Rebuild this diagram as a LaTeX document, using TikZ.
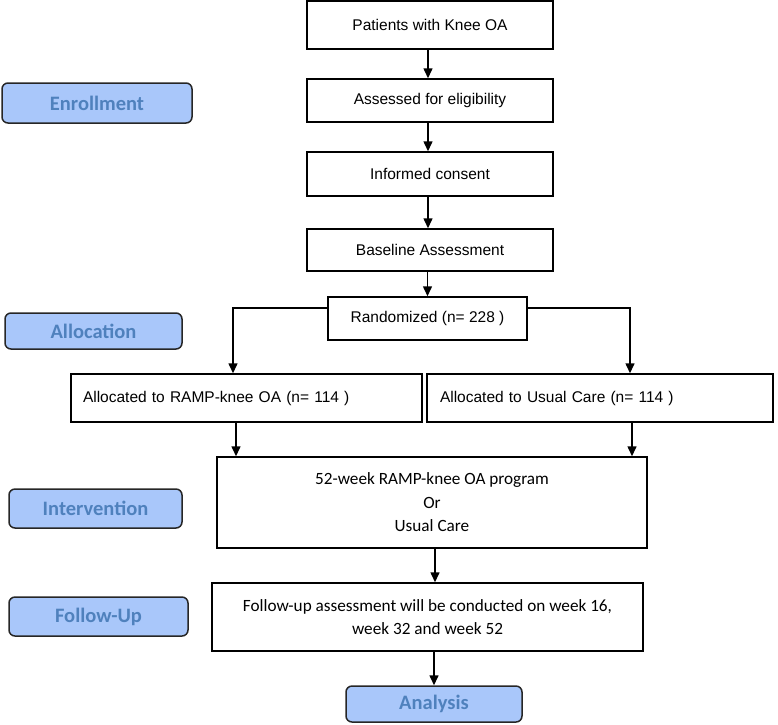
\documentclass[tikz,border=0pt]{standalone}
\usepackage{fontspec}
\setmainfont{Liberation Sans}
\newfontfamily\calib{Carlito}
\usetikzlibrary{arrows.meta}
\definecolor{lblfill}{HTML}{A9C7FA}
\definecolor{lbltext}{HTML}{4F81BD}
\tikzset{
  box/.style={draw=black, line width=1.5pt, inner sep=0pt, align=center,
    font=\fontsize{15.5}{18}\selectfont},
  cbox/.style={box, font=\calib\fontsize{17.2}{23.5}\selectfont},
  lbl/.style={draw=black!85, line width=1.5pt, rounded corners=6pt, fill=lblfill,
    inner sep=0pt, text=lbltext, font=\calib\bfseries\fontsize{20.5}{24}\selectfont},
  arr/.style={line width=1.5pt, -{Triangle[length=10pt,width=9pt]}}
}
\begin{document}
\begin{tikzpicture}[x=1pt,y=-1pt]
\useasboundingbox (0,0) rectangle (778,724);
% main boxes
\node[box, minimum width=246pt, minimum height=48pt] (pat) at (430,25) {Patients with Knee OA};
\node[box, minimum width=246pt, minimum height=43pt] (ass) at (430,100.5) {Assessed for eligibility};
\node[box, minimum width=246pt, minimum height=44pt] (con) at (430,174) {Informed consent};
\node[box, minimum width=246pt, minimum height=42pt] (base) at (430,250) {Baseline Assessment};
\node[box, minimum width=199pt, minimum height=43pt] (rand) at (427.5,318.5) {Randomized (n= 228 )};
\node[box, minimum width=351pt, minimum height=48pt, text width=327pt, align=left] (allocL) at (246.5,398) {Allocated to RAMP-knee OA (n= 114 )};
\node[box, minimum width=346pt, minimum height=48pt, text width=320pt, align=left] (allocR) at (600,398) {Allocated to Usual Care (n= 114 )};
\node[cbox, minimum width=430pt, minimum height=91pt] (inter) at (432,502.5) {52-week RAMP-knee OA program\\Or\\Usual Care};
\node[cbox, minimum width=431pt, minimum height=68pt] (fol) at (427.5,617) {Follow-up assessment will be conducted on week 16,\\week 32 and week 52};
\node[lbl, minimum width=176pt, minimum height=36pt] (ana) at (434,704) {Analysis};
% stage labels
\node[lbl, minimum width=190pt, minimum height=40pt] (enr) at (97,103) {Enrollment};
\node[lbl, minimum width=177pt, minimum height=36pt] (allo) at (93.5,331) {Allocation};
\node[lbl, minimum width=173pt, minimum height=39pt] (intv) at (95.5,508.5) {Intervention};
\node[lbl, minimum width=179pt, minimum height=39pt] (fup) at (98.5,616.5) {Follow-Up};
% connectors
\draw[arr] ([xshift=-2pt]pat.south) -- ([xshift=-2pt]ass.north);
\draw[arr] ([xshift=-2pt]ass.south) -- ([xshift=-2pt]con.north);
\draw[arr] ([xshift=-2pt]con.south) -- ([xshift=-2pt]base.north);
\draw[arr] (rand.north |- base.south) -- (rand.north);
\draw[arr] ([yshift=10.5pt]rand.west) -| ([xshift=-13.5pt]allocL.north);
\draw[arr] ([yshift=10.5pt]rand.east) -| ([xshift=30pt]allocR.north);
\draw[arr] ([xshift=-10.5pt]allocL.south) -- ([xshift=-10.5pt]allocL.south |- inter.north);
\draw[arr] ([xshift=32pt]allocR.south) -- ([xshift=32pt]allocR.south |- inter.north);
\draw[arr] ([xshift=3pt]inter.south) -- ([xshift=3pt]inter.south |- fol.north);
\draw[arr] (ana.north |- fol.south) -- (ana.north);
\end{tikzpicture}
\end{document}
